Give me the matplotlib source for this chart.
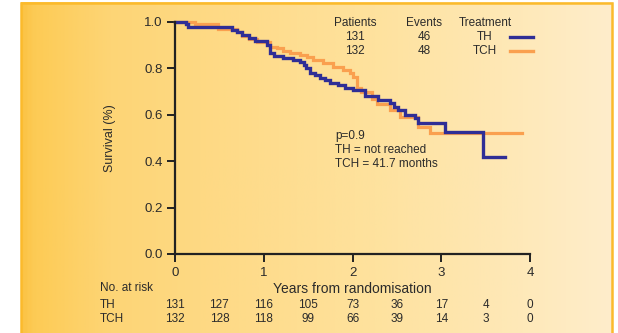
import numpy as np
import matplotlib
matplotlib.use("Agg")
import matplotlib.pyplot as plt
from matplotlib.colors import LinearSegmentedColormap
from matplotlib.lines import Line2D
from matplotlib.patches import Rectangle

plt.rcParams['font.family'] = ['Liberation Sans', 'DejaVu Sans']

# Kaplan-Meier steps (years, survival)
th_time = [0, 0.12, 0.15, 0.64, 0.70, 0.76, 0.83, 0.90, 1.04, 1.07, 1.12, 1.22,
           1.33, 1.41, 1.45, 1.48, 1.52, 1.58, 1.63, 1.69, 1.75, 1.84, 1.92,
           2.01, 2.14, 2.29, 2.42, 2.47, 2.51, 2.59, 2.70, 2.74, 3.04, 3.47]
th_surv = [1.0, 0.992, 0.978, 0.965, 0.955, 0.945, 0.932, 0.918, 0.900, 0.865,
           0.855, 0.845, 0.836, 0.828, 0.815, 0.800, 0.782, 0.770, 0.760, 0.748,
           0.737, 0.728, 0.716, 0.707, 0.680, 0.664, 0.650, 0.635, 0.620, 0.600,
           0.585, 0.566, 0.524, 0.418]
th_end = 3.72

tch_time = [0, 0.23, 0.49, 0.70, 0.76, 0.83, 0.92, 1.07, 1.15, 1.22, 1.30, 1.41,
            1.49, 1.56, 1.67, 1.78, 1.89, 1.97, 2.01, 2.05, 2.10, 2.22, 2.28,
            2.42, 2.54, 2.74, 2.87]
tch_surv = [1.0, 0.990, 0.968, 0.955, 0.940, 0.925, 0.912, 0.894, 0.888, 0.876,
            0.866, 0.858, 0.850, 0.836, 0.823, 0.806, 0.793, 0.780, 0.765, 0.715,
            0.700, 0.670, 0.645, 0.620, 0.590, 0.547, 0.523]
tch_end = 3.91

risk_times = [0, 0.5, 1, 1.5, 2, 2.5, 3, 3.5, 4]
th_risk = [131, 127, 116, 105, 73, 36, 17, 4, 0]
tch_risk = [132, 128, 118, 99, 66, 39, 14, 3, 0]

legend_patients = ['131', '132']
legend_events = ['46', '48']
legend_treatment = ['TH', 'TCH']

BLUE = '#2F2E96'
ORANGE = '#FAA04F'
TEXT = '#2b2b2b'
W, H = 618, 333


def fx(px):
    return px / W


def fy(py):
    return 1 - py / H


fig = plt.figure(figsize=(6.18, 3.33), dpi=100)
fig.patch.set_facecolor('white')

# gradient panel behind the chart
bg = fig.add_axes([fx(21), 0, fx(613) - fx(21), fy(2)])
bg.set_axis_off()
cmap = LinearSegmentedColormap.from_list(
    'panel', [(0, '#FBC345'), (0.02, '#FDCB55'), (0.15, '#FDD576'),
              (0.3, '#FED983'), (0.6, '#FEE29E'), (0.85, '#FEE9B9'),
              (1, '#FFEDCB')])
bg.imshow(np.linspace(0, 1, 400).reshape(1, -1), aspect='auto', cmap=cmap,
          extent=[0, 1, 0, 1])
bg.set_xlim(0, 1)
bg.set_ylim(0, 1)
fig.patches.append(Rectangle((fx(21), -0.02), fx(612) - fx(21), fy(3) + 0.02,
                             transform=fig.transFigure, fill=False,
                             edgecolor='#FBBA2C', linewidth=1.8))

ax = fig.add_axes([fx(175), fy(254), fx(530) - fx(175), fy(22) - fy(254)])
ax.patch.set_alpha(0)

ax.step(tch_time + [tch_end], tch_surv + [tch_surv[-1]], where='post',
        color=ORANGE, lw=2.3, clip_on=False, solid_joinstyle='miter')
ax.step(th_time + [th_end], th_surv + [th_surv[-1]], where='post',
        color=BLUE, lw=2.4, clip_on=False, solid_joinstyle='miter')

ax.set_xlim(0, 4)
ax.set_ylim(0, 1)
ax.set_xticks([0, 1, 2, 3, 4])
ax.set_yticks([0, 0.2, 0.4, 0.6, 0.8, 1.0])
ax.set_yticklabels(['0.0', '0.2', '0.4', '0.6', '0.8', '1.0'])
for s in ['top', 'right']:
    ax.spines[s].set_visible(False)
for s in ['left', 'bottom']:
    ax.spines[s].set_linewidth(1.6)
    ax.spines[s].set_color('#222222')
ax.tick_params(direction='out', length=5.5, width=1.4, color='#222222',
               labelsize=9.5, labelcolor=TEXT, pad=3.5)
ax.set_ylabel('Survival (%)', fontsize=9, color=TEXT, labelpad=20)

# legend block
fs = 8.5
for x, head, col in [(355, 'Patients', legend_patients),
                     (424, 'Events', legend_events),
                     (485, 'Treatment', legend_treatment)]:
    fig.text(fx(x), fy(23), head, ha='center', va='center', fontsize=fs, color=TEXT)
    for i, v in enumerate(col):
        fig.text(fx(x), fy(37 + 14 * i), v, ha='center', va='center',
                 fontsize=fs, color=TEXT)
for i, c in enumerate([BLUE, ORANGE]):
    fig.add_artist(Line2D([fx(510), fx(533)], [fy(37 + 14 * i)] * 2,
                          transform=fig.transFigure, color=c, lw=2.4))

# annotations
for i, s in enumerate(['p=0.9', 'TH = not reached', 'TCH = 41.7 months']):
    fig.text(fx(335), fy(136 + 14 * i), s, ha='left', va='center',
             fontsize=fs, color=TEXT)

# x label and risk table
rs = 8.5
fig.text(fx(352), fy(289), 'Years from randomisation', ha='center',
         va='center', fontsize=10, color=TEXT)
fig.text(fx(100), fy(288), 'No. at risk', ha='left', va='center',
         fontsize=rs, color=TEXT)
fig.text(fx(100), fy(305), 'TH', ha='left', va='center', fontsize=rs, color=TEXT)
fig.text(fx(100), fy(319), 'TCH', ha='left', va='center', fontsize=rs, color=TEXT)
for t, a, b in zip(risk_times, th_risk, tch_risk):
    xf = fig.transFigure.inverted().transform(ax.transData.transform((t, 0)))[0]
    fig.text(xf, fy(305), str(a), ha='center', va='center', fontsize=rs, color=TEXT)
    fig.text(xf, fy(319), str(b), ha='center', va='center', fontsize=rs, color=TEXT)

fig.savefig('out.png', dpi=100)
